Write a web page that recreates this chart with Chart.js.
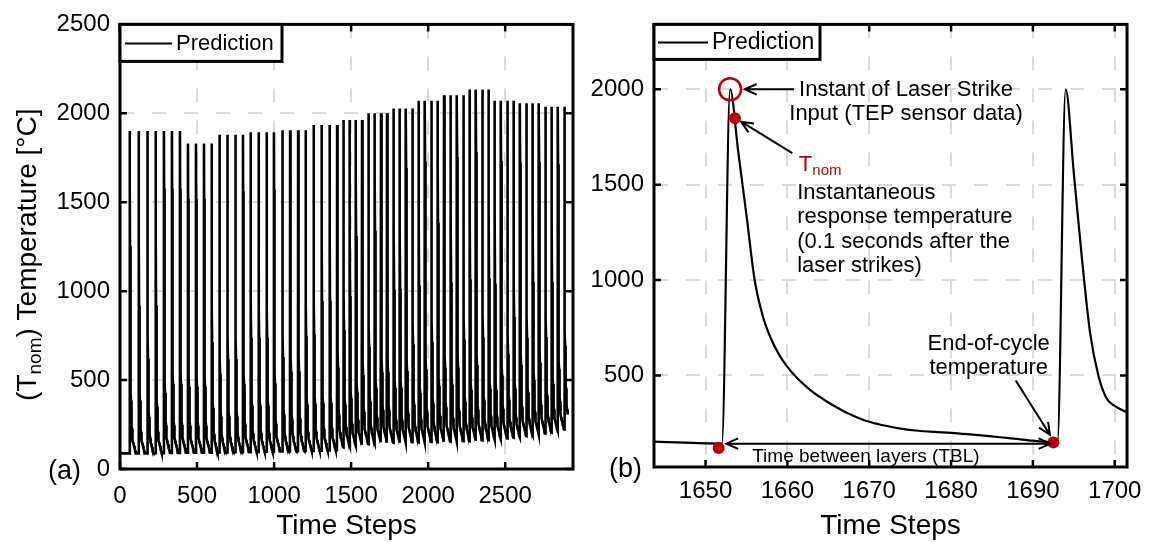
<!DOCTYPE html>
<html>
<head>
<meta charset="utf-8">
<script src="https://cdn.jsdelivr.net/npm/chart.js@4.4.1/dist/chart.umd.min.js"></script>
<style>
  body { margin: 0; background: #fff; }
  #wrap { position: relative; width: 1152px; height: 547px; }
  #chartA { position: absolute; left: 0; top: 0; }
  #chartB { position: absolute; left: 590px; top: 0; }
</style>
</head>
<body>
<div id="wrap">
  <canvas id="chartA" width="590" height="547"></canvas>
  <canvas id="chartB" width="562" height="547"></canvas>
</div>
<script>
// ---------- panel (a): whole build, one spike per layer ----------
const aStartStep = 0;
const aStartTemp = 88;
const aPeakSteps = [63, 121, 177, 231, 285, 337, 389, 441, 493, 545, 594, 644, 696, 748, 798,
  847, 899, 951, 999, 1053, 1104, 1156, 1204, 1256, 1308, 1360, 1409, 1450, 1490, 1530, 1571,
  1612, 1653, 1694, 1733, 1776, 1815, 1856, 1897, 1938, 1979, 2020, 2062, 2103, 2146, 2187, 2228,
  2269, 2310, 2351, 2392, 2431, 2472, 2513, 2554, 2596, 2637, 2678, 2719, 2760, 2801, 2842, 2883];
const aPeakTemps = [1900, 1900, 1900, 1900, 1900, 1900, 1900, 1830, 1830, 1830, 1830,
  1880, 1880, 1880, 1880, 1893, 1893, 1893, 1893, 1905, 1905, 1905, 1905, 1934, 1934, 1934, 1934,
  1962, 1962, 1962, 1962, 2000, 2000, 2000, 2000, 2027, 2027, 2027, 2027, 2070, 2070, 2070, 2070,
  2101, 2101, 2101, 2101, 2134, 2134, 2134, 2134, 2070, 2070, 2070, 2070, 2057, 2057, 2057, 2057,
  2037, 2037, 2037, 2037];
const aEndTemps = [88, 88, 89, 89, 90, 90, 91, 91, 92, 92, 93, 93, 94, 95, 95, 96, 97, 97, 98,
  99, 100, 101, 102, 103, 104, 106, 122, 128, 132, 136, 140, 143, 150, 147, 148, 148, 149, 150,
  150, 151, 152, 152, 153, 154, 155, 156, 157, 159, 161, 163, 165, 168, 172, 176, 180, 185, 190,
  195, 200, 206, 213, 222, 252];
const aLastStep = 2907;
const aLastTemp = 306;
const aTicksX = [0, 500, 1000, 1500, 2000, 2500];
const aTicksY = [0, 500, 1000, 1500, 2000, 2500];

// ---------- panel (b): zoom on two layers ----------
const bSteps = [1642, 1652, 1653, 1654, 1655, 1656, 1657, 1658, 1659, 1660, 1661, 1662, 1663,
  1664, 1665, 1666, 1667, 1668, 1669, 1670, 1672, 1674, 1676, 1678, 1680, 1682, 1684, 1686, 1688,
  1690, 1692, 1693, 1694, 1695, 1696, 1697, 1698, 1699, 1700, 1701, 1702];
const bTemps = [155, 143, 2000, 1670, 1340, 1000, 810, 692, 608, 545, 495, 453, 417,
  386, 358, 333, 310, 290, 272, 257, 236, 220, 210, 204, 199, 192, 184, 176, 167,
  158, 151, 150, 2000, 1560, 1110, 720, 500, 380, 340, 316, 302];
const bTicksX = [1650, 1660, 1670, 1680, 1690, 1700];
const bTicksY = [500, 1000, 1500, 2000];
const laserStrike = [{ x: 1653, y: 2000 }];
const markedTemps = [{ x: 1653.6, y: 1848 }, { x: 1651.6, y: 120 }, { x: 1692.5, y: 149 }];

const FONT = '"Liberation Sans", Arial, sans-serif';
const RED = '#c00000';
Chart.defaults.font.family = FONT;
Chart.defaults.color = '#000';

// one layer's cooling curve, taken from panel (b): peak at 1653, next rise at 1693
const p0 = bSteps.indexOf(1653), p1 = bSteps.indexOf(1693);
const shape = bSteps.slice(p0, p1 + 1).map((s, i) => ({ d: s - 1653, v: bTemps[p0 + i] }));
const shapeTop = bTemps[p0], shapeEnd = bTemps[p1];

const aPoints = [{ x: aStartStep, y: aStartTemp }];
let prevEnd = aStartTemp;
aPeakSteps.forEach((p, i) => {
  const peak = aPeakTemps[i], end = aEndTemps[i];
  const stop = i < aPeakSteps.length - 1 ? aPeakSteps[i + 1] - 1 : aLastStep;
  aPoints.push({ x: p - 1, y: prevEnd });
  shape.forEach(s => {
    if (p + s.d < stop) {
      aPoints.push({ x: p + s.d, y: end + (s.v - shapeEnd) * (peak - end) / (shapeTop - shapeEnd) });
    }
  });
  prevEnd = end;
});
aPoints.push({ x: aLastStep, y: aLastTemp });

const bPoints = bSteps.map((s, i) => ({ x: s, y: bTemps[i] }));

// box, inward ticks, legend and panel tag
const frame = {
  id: 'frame',
  afterDatasetsDraw(chart, args, o) {
    const { ctx, chartArea: a, scales: { x, y } } = chart;
    ctx.save();
    ctx.strokeStyle = '#000';
    ctx.lineWidth = 2.5;
    ctx.beginPath();
    x.ticks.forEach(t => {
      const p = x.getPixelForValue(t.value);
      ctx.moveTo(p, a.bottom); ctx.lineTo(p, a.bottom - 7);
      ctx.moveTo(p, a.top); ctx.lineTo(p, a.top + 7);
    });
    y.ticks.forEach(t => {
      const p = y.getPixelForValue(t.value);
      ctx.moveTo(a.left, p); ctx.lineTo(a.left + 7, p);
      ctx.moveTo(a.right, p); ctx.lineTo(a.right - 7, p);
    });
    ctx.stroke();
    ctx.lineWidth = 3;
    ctx.strokeRect(a.left, a.top, a.width, a.height);

    ctx.fillStyle = '#fff';
    ctx.fillRect(a.left, a.top, o.boxW, o.boxH);
    ctx.strokeRect(a.left, a.top, o.boxW, o.boxH);
    ctx.lineWidth = 2;
    ctx.beginPath();
    ctx.moveTo(a.left + o.lineX0, a.top + o.lineY);
    ctx.lineTo(a.left + o.lineX1, a.top + o.lineY);
    ctx.stroke();
    ctx.fillStyle = '#000';
    ctx.font = o.fontSize + 'px ' + FONT;
    ctx.textBaseline = 'middle';
    ctx.textAlign = 'left';
    ctx.fillText('Prediction', a.left + o.textX, a.top + o.textY);

    ctx.font = '27px ' + FONT;
    ctx.textAlign = 'center';
    ctx.fillText(o.tag, a.left + o.tagDX, a.bottom + 3);
    ctx.restore();
  }
};

// rotated y title with subscript
const yTitle = {
  id: 'yTitle',
  afterDraw(chart) {
    const { ctx, chartArea: a } = chart;
    ctx.save();
    ctx.translate(36, (a.top + a.bottom) / 2 + 8);
    ctx.rotate(-Math.PI / 2);
    ctx.fillStyle = '#000';
    ctx.textBaseline = 'alphabetic';
    ctx.textAlign = 'left';
    const big = '28px ' + FONT, small = '19px ' + FONT;
    ctx.font = big;
    const w1 = ctx.measureText('(T').width;
    const w3 = ctx.measureText(') Temperature [°C]').width;
    ctx.font = small;
    const w2 = ctx.measureText('nom').width;
    const x0 = -(w1 + w2 + w3) / 2;
    ctx.font = big;
    ctx.fillText('(T', x0, 0);
    ctx.font = small;
    ctx.fillText('nom', x0 + w1, 5);
    ctx.font = big;
    ctx.fillText(') Temperature [°C]', x0 + w1 + w2, 0);
    ctx.restore();
  }
};

function arrow(ctx, x1, y1, x2, y2, head, both) {
  const ang = Math.atan2(y2 - y1, x2 - x1);
  const tip = (tx, ty, an) => {
    ctx.moveTo(tx - head * Math.cos(an - 0.42), ty - head * Math.sin(an - 0.42));
    ctx.lineTo(tx, ty);
    ctx.lineTo(tx - head * Math.cos(an + 0.42), ty - head * Math.sin(an + 0.42));
  };
  ctx.beginPath();
  ctx.moveTo(x1, y1);
  ctx.lineTo(x2, y2);
  tip(x2, y2, ang);
  if (both) tip(x1, y1, ang + Math.PI);
  ctx.stroke();
}

// callouts of panel (b), anchored in data units
const notes = {
  id: 'notes',
  afterDatasetsDraw(chart) {
    const { ctx, scales: { x, y } } = chart;
    const X = v => x.getPixelForValue(v), Y = v => y.getPixelForValue(v);
    ctx.save();
    ctx.strokeStyle = '#000';
    ctx.lineWidth = 2;
    arrow(ctx, X(1660.8), Y(2000), X(1654.8), Y(2000), 13);
    arrow(ctx, X(1660.6), Y(1665), X(1654.35), Y(1830), 13);
    arrow(ctx, X(1687.9), Y(473), X(1692.08), Y(189), 13);
    arrow(ctx, X(1652.53), Y(142.5), X(1692.15), Y(142.5), 13, true);

    ctx.fillStyle = '#000';
    ctx.textBaseline = 'alphabetic';
    ctx.font = '22px ' + FONT;
    ctx.textAlign = 'center';
    ctx.fillText('Instant of Laser Strike', X(1674.5), Y(1967));
    ctx.fillText('Input (TEP sensor data)', X(1674.5), Y(1841));
    ctx.fillText('End-of-cycle', X(1684.6), Y(635));
    ctx.fillText('temperature', X(1684.6), Y(507));
    ctx.textAlign = 'left';
    ctx.fillText('Instantaneous', X(1661.2), Y(1427));
    ctx.fillText('response temperature', X(1661.2), Y(1300));
    ctx.fillText('(0.1 seconds after the', X(1661.2), Y(1170));
    ctx.fillText('laser strikes)', X(1661.2), Y(1043));
    ctx.font = '19px ' + FONT;
    ctx.fillText('Time between layers (TBL)', X(1655.7), Y(47));

    ctx.fillStyle = RED;
    ctx.font = '22px ' + FONT;
    ctx.fillText('T', X(1661.4), Y(1572));
    ctx.font = '15px ' + FONT;
    ctx.fillText('nom', X(1661.4) + 13.5, Y(1551));
    ctx.restore();
  }
};

function axisX(min, max, ticks, pad) {
  return {
    type: 'linear', min: min, max: max,
    afterBuildTicks: s => { s.ticks = ticks.map(v => ({ value: v })); },
    afterFit: s => { s.height = pad.h; },
    grid: { color: '#d9d9d9', lineWidth: 2, drawTicks: false },
    border: { display: false, dash: [14, 18] },
    ticks: { font: { size: 24 }, padding: pad.tick, autoSkip: false, maxRotation: 0, callback: v => String(v) },
    title: { display: true, text: 'Time Steps', font: { size: 28 }, padding: { top: 0, bottom: 4 } }
  };
}
function axisY(min, max, ticks, w) {
  return {
    type: 'linear', min: min, max: max,
    afterBuildTicks: s => { s.ticks = ticks.map(v => ({ value: v })); },
    afterFit: s => { s.width = w; },
    grid: { color: '#d9d9d9', lineWidth: 2, drawTicks: false },
    border: { display: false, dash: [14, 18] },
    ticks: { font: { size: 24 }, padding: 10, autoSkip: false, callback: v => String(v) }
  };
}

new Chart(document.getElementById('chartA'), {
  type: 'line',
  data: {
    datasets: [{ data: aPoints, borderColor: '#000', borderWidth: 2.6, pointRadius: 0, tension: 0 }]
  },
  options: {
    responsive: false, animation: false, events: [],
    layout: { padding: { top: 14, right: 17, left: 0, bottom: 0 } },
    scales: {
      x: axisX(0, 2940, aTicksX, { h: 78, tick: 13 }),
      y: axisY(0, 2500, aTicksY, 120)
    },
    plugins: {
      legend: { display: false }, tooltip: { enabled: false },
      frame: { boxW: 162, boxH: 37, lineX0: 5, lineX1: 52, lineY: 19, textX: 56, textY: 20, fontSize: 22, tag: '(a)', tagDX: -55.5 }
    }
  },
  plugins: [frame, yTitle]
});

new Chart(document.getElementById('chartB'), {
  type: 'line',
  data: {
    datasets: [
      { data: laserStrike, showLine: false, pointRadius: 11, pointBorderColor: RED, pointBackgroundColor: 'rgba(0,0,0,0)', pointBorderWidth: 2.5, order: 0 },
      { data: markedTemps, showLine: false, pointRadius: 6, pointBorderColor: RED, pointBackgroundColor: RED, pointBorderWidth: 0, order: 0 },
      { data: bPoints, borderColor: '#000', borderWidth: 2.2, pointRadius: 0, cubicInterpolationMode: 'monotone', order: 1 }
    ]
  },
  options: {
    responsive: false, animation: false, events: [],
    layout: { padding: { top: 13, right: 22, left: 0, bottom: 0 } },
    scales: {
      x: axisX(1643.7, 1701.5, bTicksX, { h: 80, tick: 10 }),
      y: axisY(20, 2340, bTicksY, 64)
    },
    plugins: {
      legend: { display: false }, tooltip: { enabled: false },
      frame: { boxW: 166, boxH: 35, lineX0: 4, lineX1: 54, lineY: 18, textX: 58, textY: 18, fontSize: 23, tag: '(b)', tagDX: -28.5 }
    }
  },
  plugins: [frame, notes]
});
</script>
</body>
</html>
